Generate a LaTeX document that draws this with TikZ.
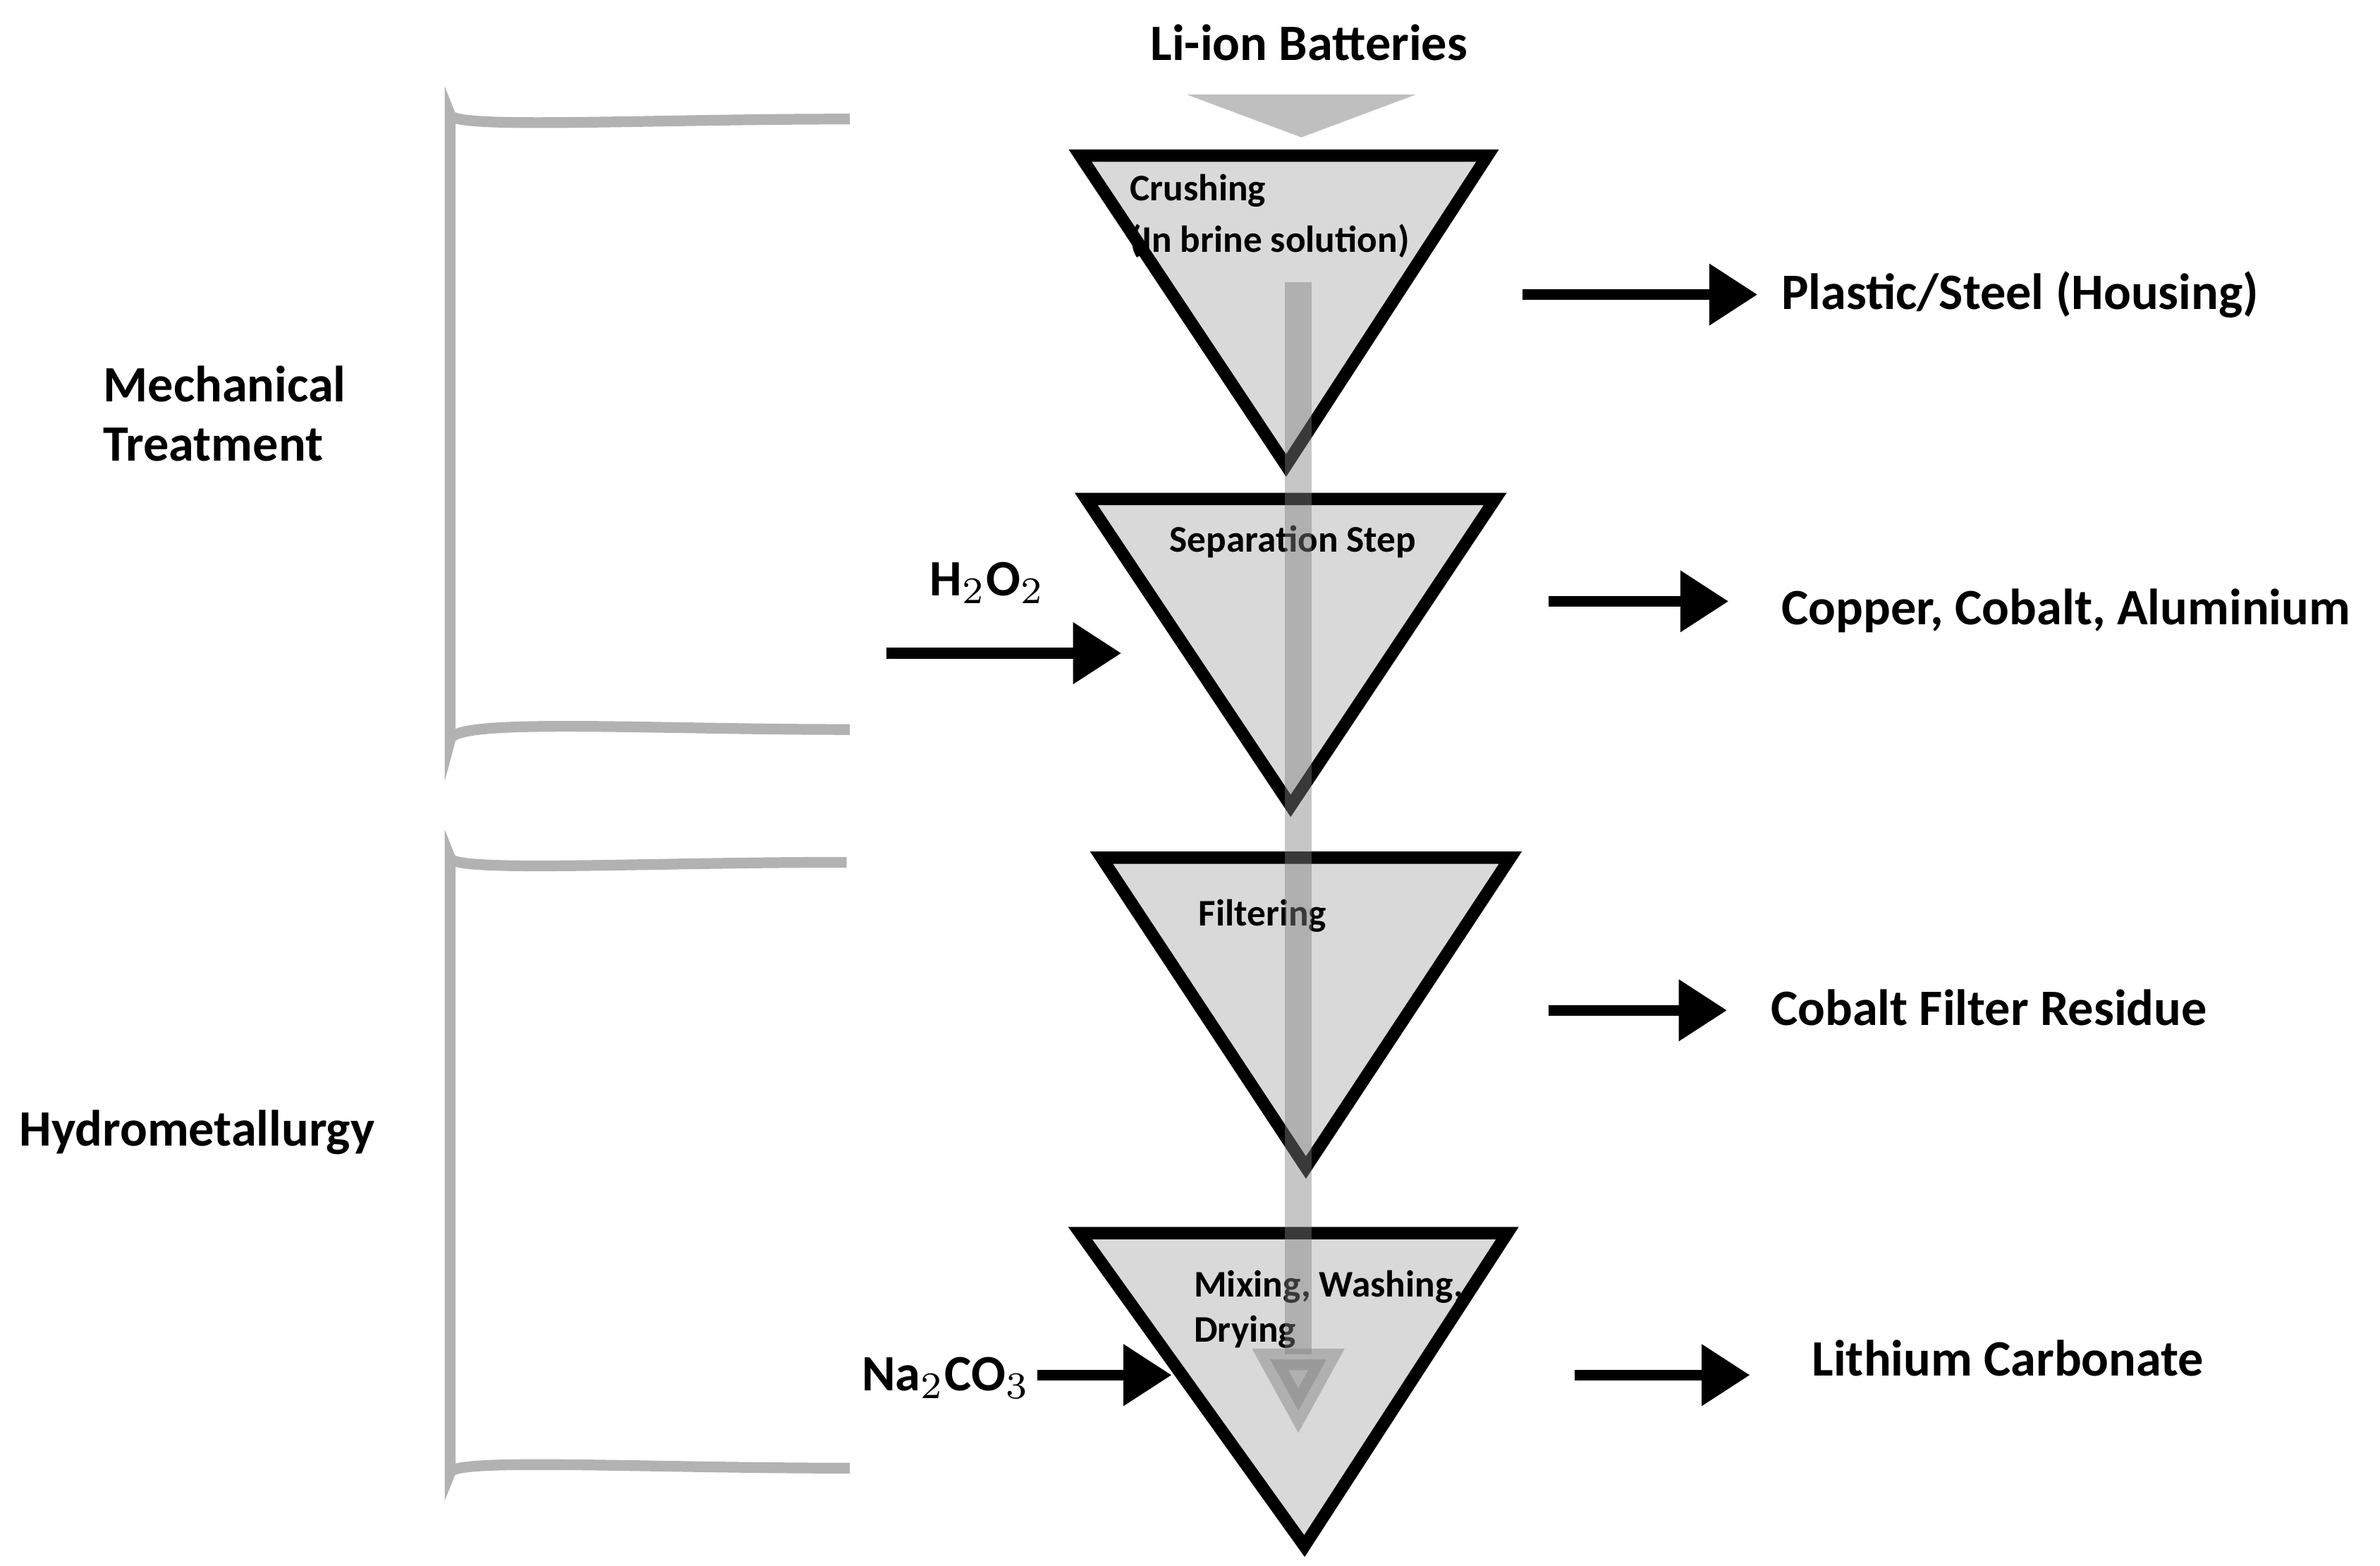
\documentclass[tikz,border=0pt]{standalone}
\usepackage{fontspec}
\setmainfont{Carlito}
\usetikzlibrary{arrows.meta}
\begin{document}
\begin{tikzpicture}[x=0.01cm,y=-0.01cm]
			\tikzstyle{funnel} = [line width=2.3pt, fill=black!15, line join=miter]
			\tikzstyle{bracket} = [line width=2pt, draw=black!30, rounded corners=10pt]
			\tikzstyle{flow} = [line width=2pt, -{Triangle[length=9pt,width=11pt]}]
			\tikzstyle{label} = [font=\bfseries\fontsize{9.5}{11}\selectfont, inner sep=0]
			\tikzstyle{steptext} = [font=\bfseries\fontsize{7}{9}\selectfont, inner sep=0, anchor=west]
			\useasboundingbox (0,0) rectangle (1560,1026);
			% funnels
			\draw [funnel] (708,102) -- (975,102) -- (843,305) -- cycle;
			\draw [funnel] (712,327) -- (980,327) -- (846,528) -- cycle;
			\draw [funnel] (722,562) -- (990,562) -- (856,765) -- cycle;
			\draw [funnel] (708,808) -- (988,808) -- (855,1013) -- cycle;
			\fill [black!25] (778,62) -- (928,62) -- (853,90) -- cycle;
			\node [label] (li) at (858,28) {Li-ion Batteries};
			\node [steptext] (crush) at (740,125) {Crushing};
			\node [steptext] (brine) at (740,158) {(In brine solution)};
			\node [steptext] (sep) at (766,355) {Separation Step};
			\node [steptext] (filt) at (785,600) {Filtering};
			\node [steptext] (mix) at (782,843) {Mixing, Washing,};
			\node [steptext] (dry) at (782,873) {Drying};
			% main stream
			\coordinate (s0) at (851,185);
			\coordinate (s1) at (851,940);
			\draw [draw=black!50, opacity=0.45, line width=5pt, -{Triangle[length=16pt,width=16pt]}] (s0) -- (s1);
			% outputs
			\node [label, anchor=west] (o1) at (1167,193) {Plastic/Steel (Housing)};
			\node [label, anchor=west] (o2) at (1167,400) {Copper, Cobalt, Aluminium};
			\node [label, anchor=west] (o3) at (1160,660) {Cobalt Filter Residue};
			\node [label, anchor=west] (o4) at (1187,890) {Lithium Carbonate};
			\coordinate (a1) at (998,193); \coordinate (b1) at (1152,193);
			\coordinate (a2) at (1015,394); \coordinate (b2) at (1133,394);
			\coordinate (a3) at (1015,662); \coordinate (b3) at (1132,662);
			\coordinate (a4) at (1032,901); \coordinate (b4) at (1147,901);
			\draw [flow] (a1) -- (b1);
			\draw [flow] (a2) -- (b2);
			\draw [flow] (a3) -- (b3);
			\draw [flow] (a4) -- (b4);
			% inputs
			\node [label] (h2o2) at (647,382) {H$_2$O$_2$};
			\node [label] (na) at (620,903) {Na$_2$CO$_3$};
			\coordinate (h1) at (581,428); \coordinate (h2) at (735,428);
			\coordinate (n1) at (680,901); \coordinate (n2) at (768,901);
			\draw [flow] (h1) -- (h2);
			\draw [flow] (n1) -- (n2);
			% stages
			\draw [bracket] (557,78) .. controls (420,78) and (295,85) .. (295,110) -- (295,450) .. controls (295,470) and (420,478) .. (557,478);
			\draw [bracket] (555,565) .. controls (420,565) and (295,572) .. (295,597) -- (295,930) .. controls (295,955) and (420,962) .. (557,962);
			\node [label, anchor=west, align=left] (mech) at (67,271) {Mechanical\\Treatment};
			\node [label, anchor=west] (hydro) at (12,742) {Hydrometallurgy};
\end{tikzpicture}
\end{document}
